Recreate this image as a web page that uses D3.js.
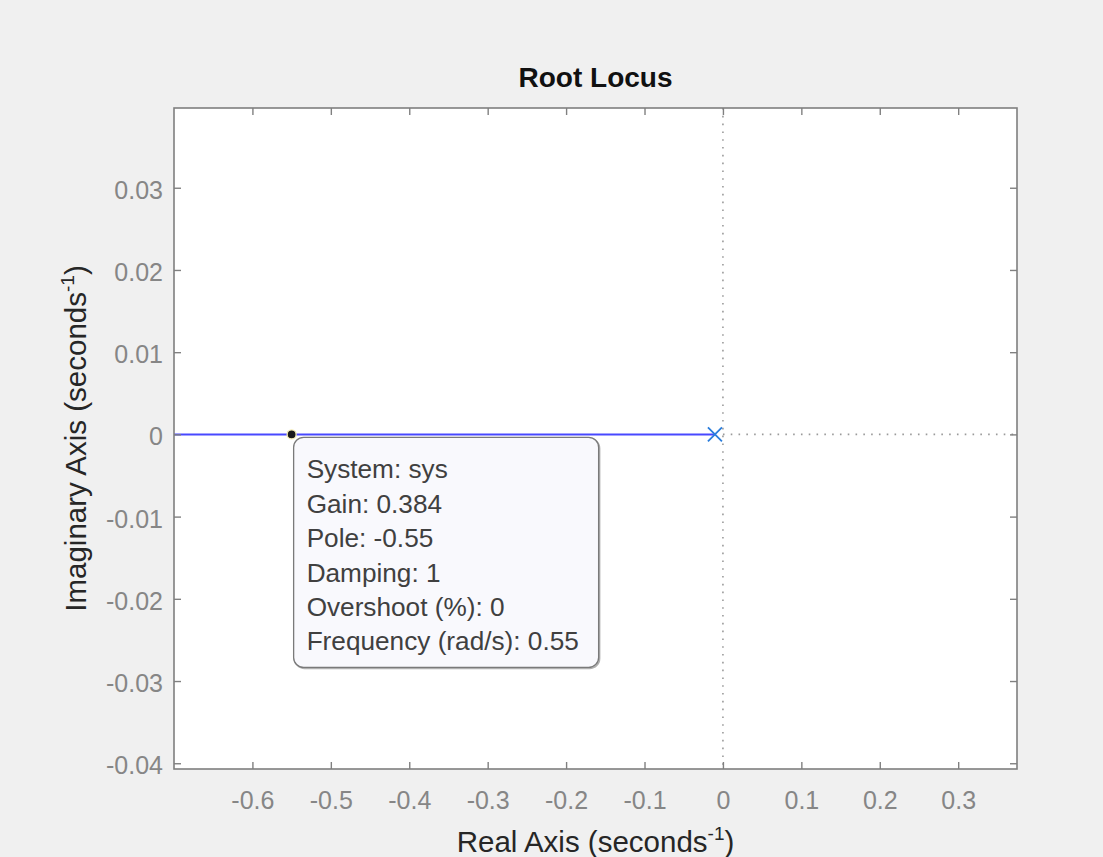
<!DOCTYPE html>
<html><head><meta charset="utf-8">
<script src="https://cdn.jsdelivr.net/npm/d3@7"></script>
<style>
html,body{margin:0;padding:0;background:#f0f0f0;}
svg{display:block;font-family:"Liberation Sans",Arial,Helvetica,sans-serif;}
</style></head>
<body>
<script>
// ---- data ----
const xTicks = [-0.6, -0.5, -0.4, -0.3, -0.2, -0.1, 0, 0.1, 0.2, 0.3];
const yTicks = [-0.04, -0.03, -0.02, -0.01, 0, 0.01, 0.02, 0.03];
const xDomain = [-0.7, 0.375];
const yDomain = [-0.0407, 0.0397];
const locusReal = [-0.7, -0.0102];   // branch on the real axis
const locusImag = [0, 0];
const poles = [[-0.0102, 0]];
const tipPoint = [-0.55, 0];
const tipLines = ["System: sys", "Gain: 0.384", "Pole: -0.55", "Damping: 1", "Overshoot (%): 0", "Frequency (rad/s): 0.55"];

const W = 1103, H = 857;
const L = 174, R = 1017, T = 108, B = 769;

const svg = d3.select("body").append("svg").attr("width", W).attr("height", H);
svg.append("rect").attr("width", W).attr("height", H).attr("fill", "#f0f0f0");

const x = d3.scaleLinear().domain(xDomain).range([L, R]);
const y = d3.scaleLinear().domain(yDomain).range([B, T]);

svg.append("rect").attr("x", L).attr("y", T).attr("width", R - L).attr("height", B - T).attr("fill", "#fff");

const clip = svg.append("defs").append("clipPath").attr("id", "c");
clip.append("rect").attr("x", L).attr("y", T).attr("width", R - L).attr("height", B - T);
const g = svg.append("g").attr("clip-path", "url(#c)");

// dotted zero grid lines
g.append("line").attr("x1", x(0)).attr("x2", x(0)).attr("y1", T).attr("y2", B)
  .attr("stroke", "#9a9a9a").attr("stroke-width", 1.6).attr("stroke-dasharray", "1.6,6.2");
g.append("line").attr("x1", x(0)).attr("x2", R).attr("y1", y(0)).attr("y2", y(0))
  .attr("stroke", "#9a9a9a").attr("stroke-width", 1.6).attr("stroke-dasharray", "1.6,6.2");

// locus
const line = d3.line().x(d => x(d[0])).y(d => y(d[1]));
g.append("path").datum(locusReal.map((r, i) => [r, locusImag[i]]))
  .attr("d", line).attr("fill", "none").attr("stroke", "#4848ff").attr("stroke-width", 2);

// pole markers
poles.forEach(p => {
  const cx = x(p[0]), cy = y(p[1]), s = 7;
  g.append("path").attr("d", `M${cx - s},${cy - s}L${cx + s},${cy + s}M${cx - s},${cy + s}L${cx + s},${cy - s}`)
    .attr("stroke", "#2a7ddc").attr("stroke-width", 1.8).attr("fill", "none");
});

// axes
const fmt = d => (d === 0 ? "0" : String(d));
const xb = d3.axisBottom(x).tickValues(xTicks).tickSize(-7).tickFormat(fmt);
const xt = d3.axisTop(x).tickValues(xTicks).tickSize(-7).tickFormat("");
const yl = d3.axisLeft(y).tickValues(yTicks).tickSize(-7).tickFormat(fmt);
const yr = d3.axisRight(y).tickValues(yTicks).tickSize(-7).tickFormat("");

function style(sel) {
  sel.select(".domain").remove();
  sel.selectAll(".tick line").attr("stroke", "#808080").attr("stroke-width", 1.4);
  sel.selectAll(".tick text").attr("fill", "#868686").attr("font-size", 25)
    .attr("font-family", "'Liberation Sans',Arial,sans-serif");
}
svg.append("g").attr("transform", `translate(0,${B})`).call(xb).call(style)
  .selectAll(".tick text").attr("dy", "0").attr("y", 40);
svg.append("g").attr("transform", `translate(0,${T})`).call(xt).call(style);
svg.append("g").attr("transform", `translate(${L},0)`).call(yl).call(style)
  .selectAll(".tick text").attr("x", -11).attr("dy", "0.42em");
svg.append("g").attr("transform", `translate(${R},0)`).call(yr).call(style);

// frame
svg.append("rect").attr("x", L).attr("y", T).attr("width", R - L).attr("height", B - T)
  .attr("fill", "none").attr("stroke", "#7f7f7f").attr("stroke-width", 1.6);

// data tip
const px = x(tipPoint[0]), py = y(tipPoint[1]);
const bx = px + 2, by = py + 3, bw = 305, bh = 230;
svg.append("rect").attr("x", bx + 1).attr("y", by + 1).attr("width", bw).attr("height", bh)
  .attr("rx", 10).attr("ry", 10).attr("fill", "none").attr("stroke", "#b0b0b0").attr("stroke-width", 1.5);
svg.append("rect").attr("x", bx).attr("y", by).attr("width", bw).attr("height", bh)
  .attr("rx", 10).attr("ry", 10).attr("fill", "#f9f9fd").attr("stroke", "#7a7a7a").attr("stroke-width", 1.3);
svg.append("circle").attr("cx", px).attr("cy", py).attr("r", 4.5)
  .attr("fill", "#1a1a1a").attr("stroke", "#f3eab0").attr("stroke-width", 1.3);
tipLines.forEach((t, i) => {
  svg.append("text").attr("x", bx + 13).attr("y", by + 41 + i * 34.4)
    .attr("font-size", 26.2).attr("fill", "#404040").text(t);
});

// title and labels
svg.append("text").attr("x", (L + R) / 2).attr("y", 87).attr("text-anchor", "middle")
  .attr("font-size", 28).attr("font-weight", "bold").attr("fill", "#111").text("Root Locus");

const xl = svg.append("text").attr("x", (L + R) / 2).attr("y", 852).attr("text-anchor", "middle")
  .attr("font-size", 29.5).attr("fill", "#262626");
xl.append("tspan").text("Real Axis (seconds");
xl.append("tspan").attr("font-size", 19).attr("dy", -12).text("-1");
xl.append("tspan").attr("dy", 12).text(")");

const ylab = svg.append("text").attr("transform", `translate(86,${(T + B) / 2}) rotate(-90)`)
  .attr("text-anchor", "middle").attr("font-size", 29.5).attr("fill", "#262626");
ylab.append("tspan").text("Imaginary Axis (seconds");
ylab.append("tspan").attr("font-size", 19).attr("dy", -12).text("-1");
ylab.append("tspan").attr("dy", 12).text(")");
</script>
</body></html>
